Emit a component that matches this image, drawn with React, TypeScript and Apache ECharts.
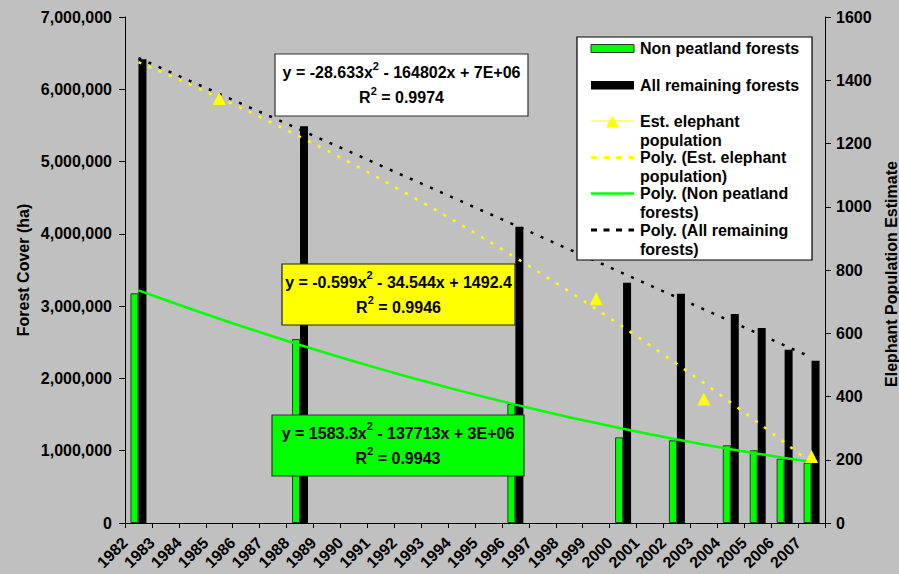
import React, { useEffect, useRef } from 'react';
import * as echarts from 'echarts';

// ---------- data ----------
const years = [
  '1982', '1983', '1984', '1985', '1986', '1987', '1988', '1989', '1990', '1991', '1992', '1993', '1994',
  '1995', '1996', '1997', '1998', '1999', '2000', '2001', '2002', '2003', '2004', '2005', '2006', '2007',
];
const forestYears = ['1982', '1988', '1996', '2000', '2002', '2004', '2005', '2006', '2007'];
const nonPeatlandForest = [3178000, 2545000, 1646000, 1185000, 1144000, 1075000, 1006000, 890000, 834000];
const allRemainingForest = [6414000, 5490000, 4099000, 3324000, 3172000, 2891000, 2697000, 2397000, 2245000];
const elephantYears = ['1985', '1999', '2003', '2007'];
const elephantPopulation = [1342, 709, 392, 210];

const legendLabels = [
  'Non peatland forests',
  'All remaining forests',
  'Est. elephant\npopulation',
  'Poly. (Est. elephant\npopulation)',
  'Poly. (Non peatland\nforests)',
  'Poly. (All remaining\nforests)',
];

const FONT = "'Liberation Sans', Arial, Helvetica, sans-serif";

// align sparse values with the category list
function align(ys: string[], vals: number[]): (number | null)[] {
  const out: (number | null)[] = years.map(() => null);
  ys.forEach((y, k) => {
    out[years.indexOf(y)] = vals[k];
  });
  return out;
}

// least-squares quadratic trend (x = 1..n, like the spreadsheet trendline)
function quadTrend(arr: (number | null)[]): number[] {
  let n = 0, sx = 0, sx2 = 0, sx3 = 0, sx4 = 0, sy = 0, sxy = 0, sx2y = 0;
  arr.forEach((v, i) => {
    if (v == null) return;
    const x = i + 1;
    n += 1; sx += x; sx2 += x * x; sx3 += x ** 3; sx4 += x ** 4;
    sy += v; sxy += x * v; sx2y += x * x * v;
  });
  const M = [
    [sx4, sx3, sx2, sx2y],
    [sx3, sx2, sx, sxy],
    [sx2, sx, n, sy],
  ];
  for (let c = 0; c < 3; c++) {
    let p = c;
    for (let r = c + 1; r < 3; r++) if (Math.abs(M[r][c]) > Math.abs(M[p][c])) p = r;
    [M[c], M[p]] = [M[p], M[c]];
    for (let r = 0; r < 3; r++) {
      if (r === c) continue;
      const f = M[r][c] / M[c][c];
      for (let k = c; k < 4; k++) M[r][k] -= f * M[c][k];
    }
  }
  const a = M[0][3] / M[0][0], b = M[1][3] / M[1][1], cc = M[2][3] / M[2][2];
  return years.map((_, i) => {
    const x = i + 1;
    return a * x * x + b * x + cc;
  });
}

export default function App() {
  const ref = useRef<HTMLDivElement>(null);

  useEffect(() => {
    const chart = echarts.init(ref.current!, null, { renderer: 'svg' });

    const nonPeat = align(forestYears, nonPeatlandForest);
    const allRem = align(forestYears, allRemainingForest);
    const eleph = align(elephantYears, elephantPopulation);

    const txt = (size: number) => ({ fontFamily: FONT, fontWeight: 'bold' as const, fontSize: size, color: '#000' });

    const eqRich = {
      m: { fontFamily: FONT, fontWeight: 'bold', fontSize: 16, lineHeight: 25, fill: '#000' },
      s: { fontFamily: FONT, fontWeight: 'bold', fontSize: 11, lineHeight: 16, verticalAlign: 'top', fill: '#000' },
    };

    const eqBox = (x: number, y: number, w: number, h: number, fill: string, stroke: string, text: string) => ({
      type: 'group',
      z: 100,
      children: [
        { type: 'rect', z: 100, shape: { x, y, width: w, height: h }, style: { fill, stroke, lineWidth: 1.2 } },
        {
          type: 'text',
          z: 101,
          x: x + w / 2,
          y: y + h / 2,
          style: { text, rich: eqRich, align: 'center', verticalAlign: 'middle' },
        },
      ],
    });

    const lx0 = 591, lx1 = 634, ltx = 640;
    const itemY = [48.5, 85, 121, 157.5, 193.5, 230];
    const legendText = (i: number) => ({
      type: 'text',
      z: 102,
      x: ltx,
      y: itemY[i] - 9.5,
      style: {
        text: legendLabels[i],
        fontFamily: FONT,
        fontWeight: 'bold',
        fontSize: 16,
        lineHeight: 19,
        fill: '#000',
        align: 'left',
        verticalAlign: 'top',
      },
    });

    const option: any = {
      animation: false,
      backgroundColor: '#C0C0C0',
      grid: { left: 125, right: 74, top: 17, bottom: 51, containLabel: false, outerBoundsMode: 'none' },
      xAxis: [
        {
          type: 'category',
          data: years,
          boundaryGap: true,
          show: false,
        },
        {
          type: 'value',
          min: 0,
          max: 26,
          interval: 1,
          position: 'bottom',
          axisLine: { show: true, onZero: false, lineStyle: { color: '#000', width: 1 } },
          axisTick: { show: true, length: 5, lineStyle: { color: '#000' } },
          splitLine: { show: false },
          axisLabel: {
            ...txt(16),
            rotate: 45,
            margin: 17,
            formatter: (v: number) => years[v] ?? '',
          },
        },
      ],
      yAxis: [
        {
          type: 'value',
          min: 0,
          max: 7000000,
          interval: 1000000,
          axisLine: { show: true, lineStyle: { color: '#000', width: 1 } },
          axisTick: { show: true, length: 6, lineStyle: { color: '#000' } },
          splitLine: { show: false },
          axisLabel: {
            ...txt(16),
            margin: 13,
            formatter: (v: number) => v.toLocaleString('en-US'),
          },
        },
        {
          type: 'value',
          position: 'right',
          min: 0,
          max: 1600,
          interval: 200,
          axisLine: { show: true, lineStyle: { color: '#000', width: 1 } },
          axisTick: { show: true, length: 6, lineStyle: { color: '#000' } },
          splitLine: { show: false },
          axisLabel: { ...txt(16), margin: 11, formatter: (v: number) => String(v) },
        },
      ],
      series: [
        {
          name: 'Non peatland forests',
          type: 'bar',
          data: nonPeat,
          barWidth: 8,
          barGap: '0%',
          itemStyle: { color: '#00FF00', borderColor: '#1f3f1f', borderWidth: 1 },
          silent: true,
        },
        {
          name: 'All remaining forests',
          type: 'bar',
          data: allRem,
          barWidth: 8,
          itemStyle: { color: '#000000' },
          silent: true,
        },
        {
          name: 'Poly. (Non peatland forests)',
          type: 'line',
          data: quadTrend(nonPeat),
          showSymbol: false,
          lineStyle: { color: '#00FF00', width: 2.5 },
          z: 3,
          silent: true,
        },
        {
          name: 'Poly. (All remaining forests)',
          type: 'line',
          data: quadTrend(allRem),
          showSymbol: false,
          lineStyle: { color: '#000000', width: 2.5, type: [3, 8], cap: 'butt' },
          z: 3,
          silent: true,
        },
        {
          name: 'Poly. (Est. elephant population)',
          type: 'line',
          yAxisIndex: 1,
          data: quadTrend(eleph),
          showSymbol: false,
          lineStyle: { color: '#FFFF00', width: 2.5, type: [3, 8], cap: 'butt' },
          z: 3,
          silent: true,
        },
        {
          name: 'Est. elephant population',
          type: 'line',
          yAxisIndex: 1,
          data: eleph,
          connectNulls: false,
          showAllSymbol: true,
          symbol: 'triangle',
          symbolSize: 13,
          itemStyle: { color: '#FFFF00', borderWidth: 0 },
          lineStyle: { color: '#FFFF00', width: 1 },
          z: 5,
          silent: true,
        },
      ],
      graphic: [
        {
          type: 'text',
          z: 100,
          x: 23,
          y: 270,
          rotation: Math.PI / 2,
          style: { text: 'Forest Cover (ha)', fontFamily: FONT, fontWeight: 'bold', fontSize: 16, fill: '#000', align: 'center', verticalAlign: 'middle' },
        },
        {
          type: 'text',
          z: 100,
          x: 891,
          y: 274,
          rotation: Math.PI / 2,
          style: { text: 'Elephant Population Estimate', fontFamily: FONT, fontWeight: 'bold', fontSize: 16, fill: '#000', align: 'center', verticalAlign: 'middle' },
        },
        eqBox(275, 54, 253, 62, '#FFFFFF', '#333333', '{m|y = -28.633x}{s|2}{m| - 164802x + 7E+06}\n{m|R}{s|2}{m| = 0.9974}'),
        eqBox(282, 264, 233, 61, '#FFFF00', '#222222', '{m|y = -0.599x}{s|2}{m| - 34.544x + 1492.4}\n{m|R}{s|2}{m| = 0.9946}'),
        eqBox(272, 415, 252, 61, '#00FF00', '#1f3f1f', '{m|y = 1583.3x}{s|2}{m| - 137713x + 3E+06}\n{m|R}{s|2}{m| = 0.9943}'),
        // legend
        { type: 'rect', z: 100, shape: { x: 577, y: 37, width: 235, height: 223 }, style: { fill: '#FFFFFF', stroke: '#000', lineWidth: 1.2 } },
        { type: 'rect', z: 101, shape: { x: lx0, y: 44.5, width: lx1 - lx0, height: 8 }, style: { fill: '#00FF00', stroke: '#1f3f1f', lineWidth: 1 } },
        { type: 'rect', z: 101, shape: { x: lx0, y: 81, width: lx1 - lx0, height: 8.5 }, style: { fill: '#000' } },
        { type: 'line', z: 101, shape: { x1: lx0, y1: itemY[2], x2: lx1, y2: itemY[2] }, style: { stroke: '#FFFF00', lineWidth: 1 } },
        { type: 'polygon', z: 102, shape: { points: [[612.5, 115.5], [606, 127.5], [619, 127.5]] }, style: { fill: '#FFFF00' } },
        { type: 'line', z: 101, shape: { x1: lx0, y1: itemY[3], x2: lx1, y2: itemY[3] }, style: { stroke: '#FFFF00', lineWidth: 3, lineDash: [6, 6.5] } },
        { type: 'line', z: 101, shape: { x1: lx0, y1: itemY[4], x2: lx1, y2: itemY[4] }, style: { stroke: '#00FF00', lineWidth: 2.5 } },
        { type: 'line', z: 101, shape: { x1: lx0, y1: itemY[5], x2: lx1, y2: itemY[5] }, style: { stroke: '#000', lineWidth: 3, lineDash: [6, 6.5] } },
        legendText(0),
        legendText(1),
        legendText(2),
        legendText(3),
        legendText(4),
        legendText(5),
      ],
    };

    chart.setOption(option);
    return () => chart.dispose();
  }, []);

  return <div ref={ref} style={{ position: 'fixed', left: 0, top: 0, width: 899, height: 574 }} />;
}
